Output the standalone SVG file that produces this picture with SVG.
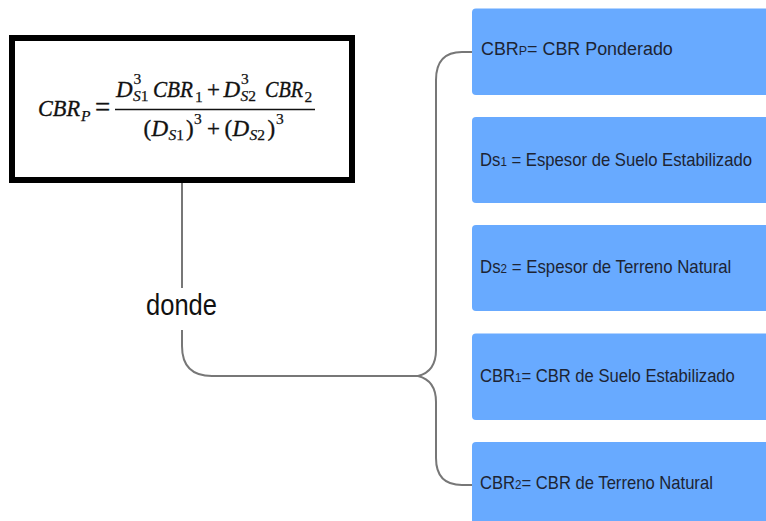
<svg xmlns="http://www.w3.org/2000/svg" width="766" height="521" viewBox="0 0 766 521">
<style>
.box{fill:#68aaff;}
.lbl{font-family:"Liberation Sans",Arial,sans-serif;font-size:18px;fill:#1d2433;}
.sm{font-size:12.5px;}
.m{font-family:"Liberation Serif","Times New Roman",serif;font-style:italic;font-size:23px;fill:#111;stroke:#111;stroke-width:0.35;}
.ms{font-size:15.5px;stroke-width:0.25;}
.u{font-style:normal;}
.conn{fill:none;stroke:#777;stroke-width:2;}
</style>
<rect width="766" height="521" fill="#fff"/>
<g id="connectors">
<path class="conn" d="M182,183 V288 M182,330 V346 Q182,376 212,376 H418"/>
<path class="conn" d="M418,376 C430,373 436,364 436,350 V80 Q436,52 462,52 H472"/>
<path class="conn" d="M418,376 C430,379 436,388 436,402 V458 Q436,485 462,485 H472"/>
</g>
<g id="donde">
<text x="146" y="315" font-family="Liberation Sans,Arial,sans-serif" font-size="30" fill="#111" textLength="71" lengthAdjust="spacingAndGlyphs">donde</text>
</g>
<g id="formula">
<rect x="12" y="38" width="340" height="142" fill="#fff" stroke="#000" stroke-width="6"/>
<text class="m" transform="translate(38,116) scale(0.967,1)">CBR</text>
<text class="m" y="116"><tspan class="ms" x="81" y="121">P</tspan><tspan class="u" x="95" y="116" font-size="27">=</tspan></text>
<line x1="115" y1="109.5" x2="315" y2="109.5" stroke="#111" stroke-width="1.4"/>
<text class="m" y="97"><tspan x="116" y="97">D</tspan><tspan class="ms u" x="133.5" y="84">3</tspan><tspan class="ms" x="133" y="101">S<tspan class="u">1</tspan></tspan></text>
<text class="m" transform="translate(153,97) scale(0.92,1)">CBR</text>
<text class="m" y="97"><tspan class="ms u" x="195" y="102">1</tspan><tspan class="u" x="207" y="97">+</tspan><tspan x="223.5" y="97">D</tspan><tspan class="ms u" x="241" y="84">3</tspan><tspan class="ms" x="240.5" y="101">S<tspan class="u">2</tspan></tspan></text>
<text class="m" transform="translate(265,97) scale(0.875,1)">CBR</text>
<text class="m ms u" x="304.5" y="102">2</text>
<text class="m" y="136"><tspan class="u" x="143.5" y="136">(</tspan><tspan x="151.5" y="136">D</tspan><tspan class="ms" x="168.5" y="140">S<tspan class="u">1</tspan></tspan><tspan class="u" x="186" y="136">)</tspan><tspan class="ms u" x="194" y="124">3</tspan><tspan class="u" x="207" y="136">+</tspan><tspan class="u" x="224.5" y="136">(</tspan><tspan x="232.5" y="136">D</tspan><tspan class="ms" x="249.5" y="140">S<tspan class="u">2</tspan></tspan><tspan class="u" x="267.5" y="136">)</tspan><tspan class="ms u" x="276" y="124">3</tspan></text>
</g>
<g id="n1">
<path class="box" d="M476,8.5 H766 V95 H476 Q472,95 472,91 V12.5 Q472,8.5 476,8.5 Z"/>
<text class="lbl" transform="translate(481,55) scale(0.995,1)">CBR<tspan class="sm">P</tspan>= CBR Ponderado</text>
</g>
<g id="n2">
<path class="box" d="M476,117 H766 V203 H476 Q472,203 472,199 V121 Q472,117 476,117 Z"/>
<text class="lbl" transform="translate(480,166) scale(0.927,1)">Ds<tspan class="sm">1</tspan> = Espesor de Suelo Estabilizado</text>
</g>
<g id="n3">
<path class="box" d="M476,225 H766 V311 H476 Q472,311 472,307 V229 Q472,225 476,225 Z"/>
<text class="lbl" transform="translate(480,273) scale(0.934,1)">Ds<tspan class="sm">2</tspan> = Espesor de Terreno Natural</text>
</g>
<g id="n4">
<path class="box" d="M476,333.5 H766 V420 H476 Q472,420 472,416 V337.5 Q472,333.5 476,333.5 Z"/>
<text class="lbl" transform="translate(480,382) scale(0.922,1)">CBR<tspan class="sm">1</tspan>= CBR de Suelo Estabilizado</text>
</g>
<g id="n5">
<path class="box" d="M476,442 H766 V521 H472 V446 Q472,442 476,442 Z"/>
<text class="lbl" transform="translate(480,489) scale(0.924,1)">CBR<tspan class="sm">2</tspan>= CBR de Terreno Natural</text>
</g>
</svg>
